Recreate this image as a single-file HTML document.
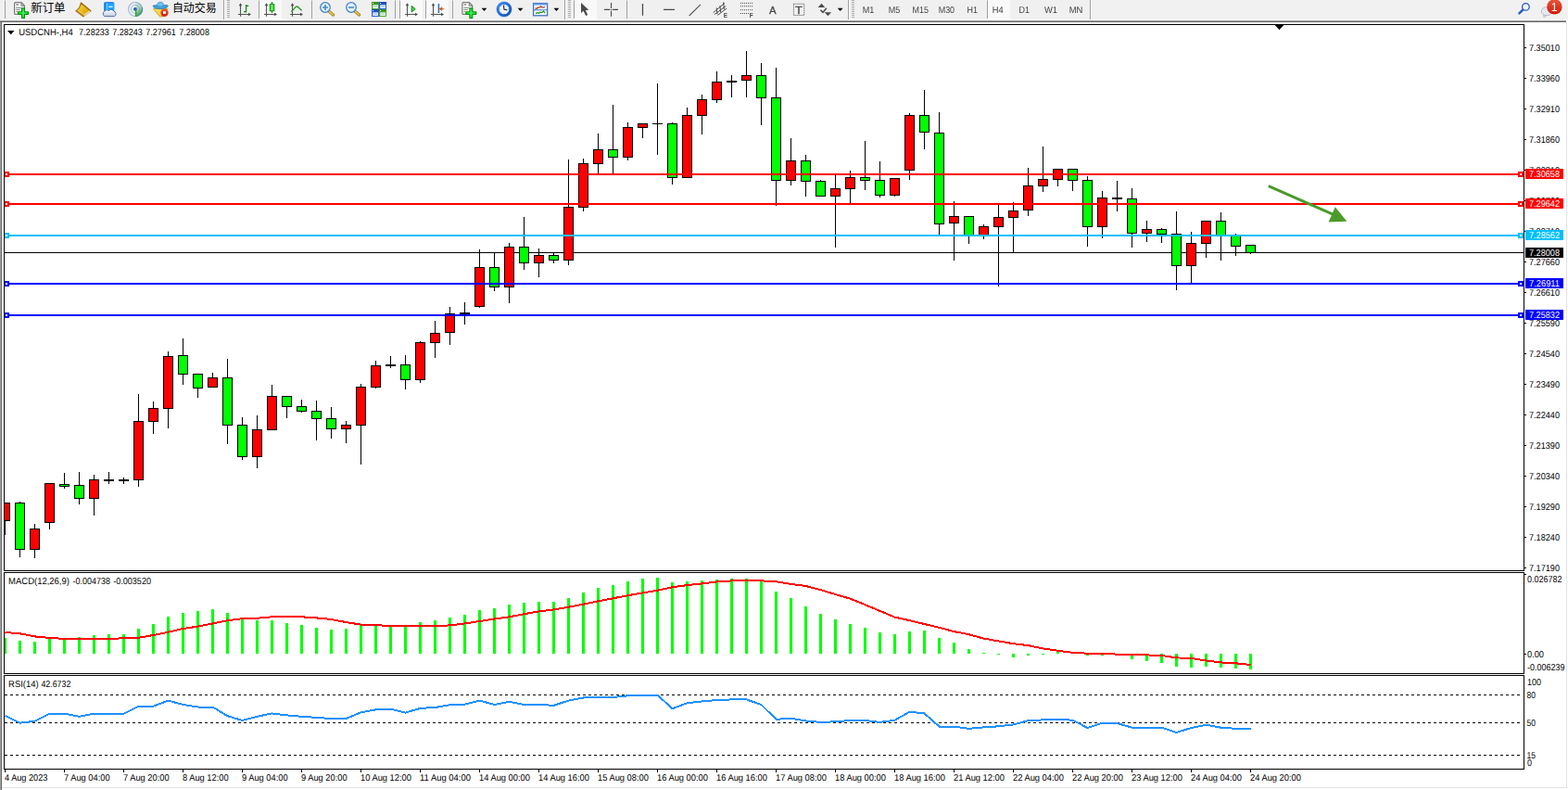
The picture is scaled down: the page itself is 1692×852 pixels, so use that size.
<!DOCTYPE html>
<html><head><meta charset="utf-8"><title>USDCNH H4</title>
<style>
html,body{margin:0;padding:0;background:#fff;}
body{width:1692px;height:852px;position:relative;overflow:hidden;font-family:"Liberation Sans",sans-serif;}
svg{display:block}
</style></head><body>
<svg id="chart" width="1692" height="852" viewBox="0 0 1692 852" style="position:absolute;left:0;top:0">
<rect x="0" y="22" width="1692" height="830" fill="#fff"/>
<rect x="0" y="24" width="1" height="828" fill="#a0a0a0"/>
<rect x="1" y="24" width="1" height="828" fill="#696969"/>
<rect x="1690" y="24" width="1" height="826" fill="#e3e3e3"/>
<rect x="1691" y="24" width="1" height="828" fill="#fff"/>
<rect x="2" y="849" width="1689" height="1" fill="#e3e3e3"/>
<rect x="0" y="21" width="1692" height="1" fill="#f8f8f8"/>
<rect x="0" y="22" width="1690" height="1" fill="#a0a0a0"/>
<rect x="0" y="23" width="1690" height="1" fill="#696969"/>
<g shape-rendering="crispEdges">
<rect x="5" y="272" width="1639" height="1" fill="#000"/>
<clipPath id="cm"><rect x="5" y="27" width="1639" height="588"/></clipPath><g clip-path="url(#cm)">
<rect x="5" y="542" width="1" height="35" fill="#000"/>
<rect x="0" y="542" width="11" height="20" fill="#000"/>
<rect x="1" y="543" width="9" height="18" fill="#ff0000"/>
<rect x="21" y="541" width="1" height="60" fill="#000"/>
<rect x="16" y="542" width="11" height="51" fill="#000"/>
<rect x="17" y="543" width="9" height="49" fill="#00ff00"/>
<rect x="37" y="565" width="1" height="37" fill="#000"/>
<rect x="32" y="570" width="11" height="23" fill="#000"/>
<rect x="33" y="571" width="9" height="21" fill="#ff0000"/>
<rect x="53" y="521" width="1" height="50" fill="#000"/>
<rect x="48" y="521" width="11" height="43" fill="#000"/>
<rect x="49" y="522" width="9" height="41" fill="#ff0000"/>
<rect x="69" y="510" width="1" height="17" fill="#000"/>
<rect x="64" y="522" width="11" height="3" fill="#000"/>
<rect x="65" y="523" width="9" height="1" fill="#00ff00"/>
<rect x="85" y="509" width="1" height="35" fill="#000"/>
<rect x="80" y="523" width="11" height="15" fill="#000"/>
<rect x="81" y="524" width="9" height="13" fill="#00ff00"/>
<rect x="101" y="512" width="1" height="44" fill="#000"/>
<rect x="96" y="517" width="11" height="21" fill="#000"/>
<rect x="97" y="518" width="9" height="19" fill="#ff0000"/>
<rect x="117" y="509" width="1" height="13" fill="#000"/>
<rect x="112" y="517" width="11" height="2" fill="#000"/>
<rect x="133" y="515" width="1" height="7" fill="#000"/>
<rect x="128" y="517" width="11" height="2" fill="#000"/>
<rect x="149" y="425" width="1" height="100" fill="#000"/>
<rect x="144" y="454" width="11" height="64" fill="#000"/>
<rect x="145" y="455" width="9" height="62" fill="#ff0000"/>
<rect x="165" y="433" width="1" height="35" fill="#000"/>
<rect x="160" y="440" width="11" height="15" fill="#000"/>
<rect x="161" y="441" width="9" height="13" fill="#ff0000"/>
<rect x="181" y="379" width="1" height="83" fill="#000"/>
<rect x="176" y="384" width="11" height="57" fill="#000"/>
<rect x="177" y="385" width="9" height="55" fill="#ff0000"/>
<rect x="197" y="365" width="1" height="50" fill="#000"/>
<rect x="192" y="383" width="11" height="21" fill="#000"/>
<rect x="193" y="384" width="9" height="19" fill="#00ff00"/>
<rect x="213" y="403" width="1" height="26" fill="#000"/>
<rect x="208" y="403" width="11" height="16" fill="#000"/>
<rect x="209" y="404" width="9" height="14" fill="#00ff00"/>
<rect x="229" y="402" width="1" height="16" fill="#000"/>
<rect x="224" y="407" width="11" height="11" fill="#000"/>
<rect x="225" y="408" width="9" height="9" fill="#ff0000"/>
<rect x="245" y="387" width="1" height="92" fill="#000"/>
<rect x="240" y="407" width="11" height="52" fill="#000"/>
<rect x="241" y="408" width="9" height="50" fill="#00ff00"/>
<rect x="261" y="450" width="1" height="46" fill="#000"/>
<rect x="256" y="458" width="11" height="35" fill="#000"/>
<rect x="257" y="459" width="9" height="33" fill="#00ff00"/>
<rect x="277" y="448" width="1" height="57" fill="#000"/>
<rect x="272" y="463" width="11" height="30" fill="#000"/>
<rect x="273" y="464" width="9" height="28" fill="#ff0000"/>
<rect x="293" y="415" width="1" height="48" fill="#000"/>
<rect x="288" y="427" width="11" height="37" fill="#000"/>
<rect x="289" y="428" width="9" height="35" fill="#ff0000"/>
<rect x="309" y="427" width="1" height="24" fill="#000"/>
<rect x="304" y="427" width="11" height="12" fill="#000"/>
<rect x="305" y="428" width="9" height="10" fill="#00ff00"/>
<rect x="325" y="431" width="1" height="14" fill="#000"/>
<rect x="320" y="438" width="11" height="6" fill="#000"/>
<rect x="321" y="439" width="9" height="4" fill="#00ff00"/>
<rect x="341" y="432" width="1" height="43" fill="#000"/>
<rect x="336" y="443" width="11" height="9" fill="#000"/>
<rect x="337" y="444" width="9" height="7" fill="#00ff00"/>
<rect x="357" y="439" width="1" height="34" fill="#000"/>
<rect x="352" y="451" width="11" height="12" fill="#000"/>
<rect x="353" y="452" width="9" height="10" fill="#00ff00"/>
<rect x="373" y="454" width="1" height="24" fill="#000"/>
<rect x="368" y="458" width="11" height="5" fill="#000"/>
<rect x="369" y="459" width="9" height="3" fill="#ff0000"/>
<rect x="389" y="414" width="1" height="87" fill="#000"/>
<rect x="384" y="417" width="11" height="42" fill="#000"/>
<rect x="385" y="418" width="9" height="40" fill="#ff0000"/>
<rect x="405" y="389" width="1" height="30" fill="#000"/>
<rect x="400" y="394" width="11" height="24" fill="#000"/>
<rect x="401" y="395" width="9" height="22" fill="#ff0000"/>
<rect x="421" y="384" width="1" height="13" fill="#000"/>
<rect x="416" y="393" width="11" height="2" fill="#000"/>
<rect x="437" y="383" width="1" height="37" fill="#000"/>
<rect x="432" y="393" width="11" height="17" fill="#000"/>
<rect x="433" y="394" width="9" height="15" fill="#00ff00"/>
<rect x="453" y="368" width="1" height="45" fill="#000"/>
<rect x="448" y="369" width="11" height="41" fill="#000"/>
<rect x="449" y="370" width="9" height="39" fill="#ff0000"/>
<rect x="469" y="346" width="1" height="40" fill="#000"/>
<rect x="464" y="359" width="11" height="11" fill="#000"/>
<rect x="465" y="360" width="9" height="9" fill="#ff0000"/>
<rect x="485" y="331" width="1" height="41" fill="#000"/>
<rect x="480" y="338" width="11" height="21" fill="#000"/>
<rect x="481" y="339" width="9" height="19" fill="#ff0000"/>
<rect x="501" y="326" width="1" height="24" fill="#000"/>
<rect x="496" y="337" width="11" height="2" fill="#000"/>
<rect x="517" y="269" width="1" height="63" fill="#000"/>
<rect x="512" y="288" width="11" height="43" fill="#000"/>
<rect x="513" y="289" width="9" height="41" fill="#ff0000"/>
<rect x="533" y="272" width="1" height="42" fill="#000"/>
<rect x="528" y="288" width="11" height="22" fill="#000"/>
<rect x="529" y="289" width="9" height="20" fill="#00ff00"/>
<rect x="549" y="262" width="1" height="65" fill="#000"/>
<rect x="544" y="266" width="11" height="44" fill="#000"/>
<rect x="545" y="267" width="9" height="42" fill="#ff0000"/>
<rect x="565" y="234" width="1" height="57" fill="#000"/>
<rect x="560" y="266" width="11" height="18" fill="#000"/>
<rect x="561" y="267" width="9" height="16" fill="#00ff00"/>
<rect x="581" y="268" width="1" height="31" fill="#000"/>
<rect x="576" y="275" width="11" height="9" fill="#000"/>
<rect x="577" y="276" width="9" height="7" fill="#ff0000"/>
<rect x="597" y="272" width="1" height="12" fill="#000"/>
<rect x="592" y="275" width="11" height="6" fill="#000"/>
<rect x="593" y="276" width="9" height="4" fill="#00ff00"/>
<rect x="613" y="172" width="1" height="114" fill="#000"/>
<rect x="608" y="223" width="11" height="58" fill="#000"/>
<rect x="609" y="224" width="9" height="56" fill="#ff0000"/>
<rect x="629" y="171" width="1" height="57" fill="#000"/>
<rect x="624" y="176" width="11" height="48" fill="#000"/>
<rect x="625" y="177" width="9" height="46" fill="#ff0000"/>
<rect x="645" y="144" width="1" height="43" fill="#000"/>
<rect x="640" y="161" width="11" height="16" fill="#000"/>
<rect x="641" y="162" width="9" height="14" fill="#ff0000"/>
<rect x="661" y="113" width="1" height="74" fill="#000"/>
<rect x="656" y="161" width="11" height="9" fill="#000"/>
<rect x="657" y="162" width="9" height="7" fill="#00ff00"/>
<rect x="677" y="132" width="1" height="41" fill="#000"/>
<rect x="672" y="137" width="11" height="33" fill="#000"/>
<rect x="673" y="138" width="9" height="31" fill="#ff0000"/>
<rect x="693" y="133" width="1" height="16" fill="#000"/>
<rect x="688" y="133" width="11" height="5" fill="#000"/>
<rect x="689" y="134" width="9" height="3" fill="#ff0000"/>
<rect x="709" y="90" width="1" height="77" fill="#000"/>
<rect x="704" y="133" width="11" height="1" fill="#000"/>
<rect x="725" y="132" width="1" height="67" fill="#000"/>
<rect x="720" y="133" width="11" height="59" fill="#000"/>
<rect x="721" y="134" width="9" height="57" fill="#00ff00"/>
<rect x="741" y="116" width="1" height="75" fill="#000"/>
<rect x="736" y="124" width="11" height="68" fill="#000"/>
<rect x="737" y="125" width="9" height="66" fill="#ff0000"/>
<rect x="757" y="102" width="1" height="43" fill="#000"/>
<rect x="752" y="107" width="11" height="18" fill="#000"/>
<rect x="753" y="108" width="9" height="16" fill="#ff0000"/>
<rect x="773" y="77" width="1" height="34" fill="#000"/>
<rect x="768" y="88" width="11" height="20" fill="#000"/>
<rect x="769" y="89" width="9" height="18" fill="#ff0000"/>
<rect x="789" y="81" width="1" height="24" fill="#000"/>
<rect x="784" y="87" width="11" height="2" fill="#000"/>
<rect x="805" y="55" width="1" height="50" fill="#000"/>
<rect x="800" y="81" width="11" height="6" fill="#000"/>
<rect x="801" y="82" width="9" height="4" fill="#ff0000"/>
<rect x="821" y="68" width="1" height="67" fill="#000"/>
<rect x="816" y="81" width="11" height="25" fill="#000"/>
<rect x="817" y="82" width="9" height="23" fill="#00ff00"/>
<rect x="837" y="73" width="1" height="149" fill="#000"/>
<rect x="832" y="105" width="11" height="90" fill="#000"/>
<rect x="833" y="106" width="9" height="88" fill="#00ff00"/>
<rect x="853" y="149" width="1" height="51" fill="#000"/>
<rect x="848" y="173" width="11" height="22" fill="#000"/>
<rect x="849" y="174" width="9" height="20" fill="#ff0000"/>
<rect x="869" y="167" width="1" height="45" fill="#000"/>
<rect x="864" y="173" width="11" height="23" fill="#000"/>
<rect x="865" y="174" width="9" height="21" fill="#00ff00"/>
<rect x="885" y="194" width="1" height="17" fill="#000"/>
<rect x="880" y="195" width="11" height="17" fill="#000"/>
<rect x="881" y="196" width="9" height="15" fill="#00ff00"/>
<rect x="901" y="188" width="1" height="79" fill="#000"/>
<rect x="896" y="203" width="11" height="9" fill="#000"/>
<rect x="897" y="204" width="9" height="7" fill="#ff0000"/>
<rect x="917" y="184" width="1" height="35" fill="#000"/>
<rect x="912" y="191" width="11" height="13" fill="#000"/>
<rect x="913" y="192" width="9" height="11" fill="#ff0000"/>
<rect x="933" y="152" width="1" height="53" fill="#000"/>
<rect x="928" y="191" width="11" height="4" fill="#000"/>
<rect x="929" y="192" width="9" height="2" fill="#00ff00"/>
<rect x="949" y="174" width="1" height="39" fill="#000"/>
<rect x="944" y="194" width="11" height="17" fill="#000"/>
<rect x="945" y="195" width="9" height="15" fill="#00ff00"/>
<rect x="965" y="192" width="1" height="20" fill="#000"/>
<rect x="960" y="192" width="11" height="19" fill="#000"/>
<rect x="961" y="193" width="9" height="17" fill="#ff0000"/>
<rect x="981" y="122" width="1" height="72" fill="#000"/>
<rect x="976" y="124" width="11" height="60" fill="#000"/>
<rect x="977" y="125" width="9" height="58" fill="#ff0000"/>
<rect x="997" y="97" width="1" height="64" fill="#000"/>
<rect x="992" y="124" width="11" height="19" fill="#000"/>
<rect x="993" y="125" width="9" height="17" fill="#00ff00"/>
<rect x="1013" y="121" width="1" height="132" fill="#000"/>
<rect x="1008" y="143" width="11" height="99" fill="#000"/>
<rect x="1009" y="144" width="9" height="97" fill="#00ff00"/>
<rect x="1029" y="217" width="1" height="64" fill="#000"/>
<rect x="1024" y="233" width="11" height="8" fill="#000"/>
<rect x="1025" y="234" width="9" height="6" fill="#ff0000"/>
<rect x="1045" y="233" width="1" height="30" fill="#000"/>
<rect x="1040" y="233" width="11" height="22" fill="#000"/>
<rect x="1041" y="234" width="9" height="20" fill="#00ff00"/>
<rect x="1061" y="242" width="1" height="16" fill="#000"/>
<rect x="1056" y="244" width="11" height="11" fill="#000"/>
<rect x="1057" y="245" width="9" height="9" fill="#ff0000"/>
<rect x="1077" y="221" width="1" height="88" fill="#000"/>
<rect x="1072" y="234" width="11" height="11" fill="#000"/>
<rect x="1073" y="235" width="9" height="9" fill="#ff0000"/>
<rect x="1093" y="218" width="1" height="54" fill="#000"/>
<rect x="1088" y="227" width="11" height="8" fill="#000"/>
<rect x="1089" y="228" width="9" height="6" fill="#ff0000"/>
<rect x="1109" y="181" width="1" height="52" fill="#000"/>
<rect x="1104" y="200" width="11" height="27" fill="#000"/>
<rect x="1105" y="201" width="9" height="25" fill="#ff0000"/>
<rect x="1125" y="158" width="1" height="49" fill="#000"/>
<rect x="1120" y="193" width="11" height="8" fill="#000"/>
<rect x="1121" y="194" width="9" height="6" fill="#ff0000"/>
<rect x="1141" y="182" width="1" height="19" fill="#000"/>
<rect x="1136" y="182" width="11" height="12" fill="#000"/>
<rect x="1137" y="183" width="9" height="10" fill="#ff0000"/>
<rect x="1157" y="182" width="1" height="24" fill="#000"/>
<rect x="1152" y="182" width="11" height="13" fill="#000"/>
<rect x="1153" y="183" width="9" height="11" fill="#00ff00"/>
<rect x="1173" y="190" width="1" height="76" fill="#000"/>
<rect x="1168" y="194" width="11" height="51" fill="#000"/>
<rect x="1169" y="195" width="9" height="49" fill="#00ff00"/>
<rect x="1189" y="206" width="1" height="51" fill="#000"/>
<rect x="1184" y="213" width="11" height="32" fill="#000"/>
<rect x="1185" y="214" width="9" height="30" fill="#ff0000"/>
<rect x="1205" y="195" width="1" height="33" fill="#000"/>
<rect x="1200" y="213" width="11" height="2" fill="#000"/>
<rect x="1221" y="203" width="1" height="64" fill="#000"/>
<rect x="1216" y="214" width="11" height="38" fill="#000"/>
<rect x="1217" y="215" width="9" height="36" fill="#00ff00"/>
<rect x="1237" y="238" width="1" height="23" fill="#000"/>
<rect x="1232" y="247" width="11" height="5" fill="#000"/>
<rect x="1233" y="248" width="9" height="3" fill="#ff0000"/>
<rect x="1253" y="246" width="1" height="16" fill="#000"/>
<rect x="1248" y="247" width="11" height="6" fill="#000"/>
<rect x="1249" y="248" width="9" height="4" fill="#00ff00"/>
<rect x="1269" y="228" width="1" height="85" fill="#000"/>
<rect x="1264" y="252" width="11" height="35" fill="#000"/>
<rect x="1265" y="253" width="9" height="33" fill="#00ff00"/>
<rect x="1285" y="250" width="1" height="55" fill="#000"/>
<rect x="1280" y="262" width="11" height="25" fill="#000"/>
<rect x="1281" y="263" width="9" height="23" fill="#ff0000"/>
<rect x="1301" y="238" width="1" height="40" fill="#000"/>
<rect x="1296" y="238" width="11" height="25" fill="#000"/>
<rect x="1297" y="239" width="9" height="23" fill="#ff0000"/>
<rect x="1317" y="229" width="1" height="52" fill="#000"/>
<rect x="1312" y="238" width="11" height="16" fill="#000"/>
<rect x="1313" y="239" width="9" height="14" fill="#00ff00"/>
<rect x="1333" y="252" width="1" height="24" fill="#000"/>
<rect x="1328" y="253" width="11" height="13" fill="#000"/>
<rect x="1329" y="254" width="9" height="11" fill="#00ff00"/>
<rect x="1349" y="264" width="1" height="10" fill="#000"/>
<rect x="1344" y="264" width="11" height="9" fill="#000"/>
<rect x="1345" y="265" width="9" height="7" fill="#00ff00"/>
</g>
<rect x="5" y="187" width="1639" height="2" fill="#ff0000"/>
<rect x="4" y="185" width="6" height="6" fill="#ff0000"/>
<rect x="6" y="187" width="2" height="2" fill="#fff"/>
<rect x="1638" y="185" width="7" height="6" fill="#ff0000"/>
<rect x="1640" y="187" width="2" height="2" fill="#fff"/>
<rect x="5" y="219" width="1639" height="2" fill="#ff0000"/>
<rect x="4" y="217" width="6" height="6" fill="#ff0000"/>
<rect x="6" y="219" width="2" height="2" fill="#fff"/>
<rect x="1638" y="217" width="7" height="6" fill="#ff0000"/>
<rect x="1640" y="219" width="2" height="2" fill="#fff"/>
<rect x="5" y="253" width="1639" height="2" fill="#00bfff"/>
<rect x="4" y="251" width="6" height="6" fill="#00bfff"/>
<rect x="6" y="253" width="2" height="2" fill="#fff"/>
<rect x="1638" y="251" width="7" height="6" fill="#00bfff"/>
<rect x="1640" y="253" width="2" height="2" fill="#fff"/>
<rect x="5" y="305" width="1639" height="2" fill="#0000ff"/>
<rect x="4" y="303" width="6" height="6" fill="#0000ff"/>
<rect x="6" y="305" width="2" height="2" fill="#fff"/>
<rect x="1638" y="303" width="7" height="6" fill="#0000ff"/>
<rect x="1640" y="305" width="2" height="2" fill="#fff"/>
<rect x="5" y="339" width="1639" height="2" fill="#0000ff"/>
<rect x="4" y="337" width="6" height="6" fill="#0000ff"/>
<rect x="6" y="339" width="2" height="2" fill="#fff"/>
<rect x="1638" y="337" width="7" height="6" fill="#0000ff"/>
<rect x="1640" y="339" width="2" height="2" fill="#fff"/>
<rect x="5" y="688" width="2" height="17" fill="#00ff00"/>
<rect x="20" y="691" width="3" height="14" fill="#00ff00"/>
<rect x="36" y="692" width="3" height="13" fill="#00ff00"/>
<rect x="52" y="689" width="3" height="16" fill="#00ff00"/>
<rect x="68" y="688" width="3" height="17" fill="#00ff00"/>
<rect x="84" y="687" width="3" height="18" fill="#00ff00"/>
<rect x="100" y="685" width="3" height="20" fill="#00ff00"/>
<rect x="116" y="684" width="3" height="21" fill="#00ff00"/>
<rect x="132" y="684" width="3" height="21" fill="#00ff00"/>
<rect x="148" y="678" width="3" height="27" fill="#00ff00"/>
<rect x="164" y="673" width="3" height="32" fill="#00ff00"/>
<rect x="180" y="665" width="3" height="40" fill="#00ff00"/>
<rect x="196" y="661" width="3" height="44" fill="#00ff00"/>
<rect x="212" y="659" width="3" height="46" fill="#00ff00"/>
<rect x="228" y="657" width="3" height="48" fill="#00ff00"/>
<rect x="244" y="661" width="3" height="44" fill="#00ff00"/>
<rect x="260" y="668" width="3" height="37" fill="#00ff00"/>
<rect x="276" y="669" width="3" height="36" fill="#00ff00"/>
<rect x="292" y="669" width="3" height="36" fill="#00ff00"/>
<rect x="308" y="672" width="3" height="33" fill="#00ff00"/>
<rect x="324" y="674" width="3" height="31" fill="#00ff00"/>
<rect x="340" y="677" width="3" height="28" fill="#00ff00"/>
<rect x="356" y="679" width="3" height="26" fill="#00ff00"/>
<rect x="372" y="678" width="3" height="27" fill="#00ff00"/>
<rect x="388" y="674" width="3" height="31" fill="#00ff00"/>
<rect x="404" y="675" width="3" height="30" fill="#00ff00"/>
<rect x="420" y="675" width="3" height="30" fill="#00ff00"/>
<rect x="436" y="676" width="3" height="29" fill="#00ff00"/>
<rect x="452" y="671" width="3" height="34" fill="#00ff00"/>
<rect x="468" y="669" width="3" height="36" fill="#00ff00"/>
<rect x="484" y="666" width="3" height="39" fill="#00ff00"/>
<rect x="500" y="663" width="3" height="42" fill="#00ff00"/>
<rect x="516" y="658" width="3" height="47" fill="#00ff00"/>
<rect x="532" y="656" width="3" height="49" fill="#00ff00"/>
<rect x="548" y="652" width="3" height="53" fill="#00ff00"/>
<rect x="564" y="650" width="3" height="55" fill="#00ff00"/>
<rect x="580" y="649" width="3" height="56" fill="#00ff00"/>
<rect x="596" y="649" width="3" height="56" fill="#00ff00"/>
<rect x="612" y="645" width="3" height="60" fill="#00ff00"/>
<rect x="628" y="639" width="3" height="66" fill="#00ff00"/>
<rect x="644" y="634" width="3" height="71" fill="#00ff00"/>
<rect x="660" y="631" width="3" height="74" fill="#00ff00"/>
<rect x="676" y="627" width="3" height="78" fill="#00ff00"/>
<rect x="692" y="624" width="3" height="81" fill="#00ff00"/>
<rect x="708" y="623" width="3" height="82" fill="#00ff00"/>
<rect x="724" y="628" width="3" height="77" fill="#00ff00"/>
<rect x="740" y="627" width="3" height="78" fill="#00ff00"/>
<rect x="756" y="626" width="3" height="79" fill="#00ff00"/>
<rect x="772" y="625" width="3" height="80" fill="#00ff00"/>
<rect x="788" y="624" width="3" height="81" fill="#00ff00"/>
<rect x="804" y="624" width="3" height="81" fill="#00ff00"/>
<rect x="820" y="626" width="3" height="79" fill="#00ff00"/>
<rect x="836" y="638" width="3" height="67" fill="#00ff00"/>
<rect x="852" y="645" width="3" height="60" fill="#00ff00"/>
<rect x="868" y="654" width="3" height="51" fill="#00ff00"/>
<rect x="884" y="662" width="3" height="43" fill="#00ff00"/>
<rect x="900" y="668" width="3" height="37" fill="#00ff00"/>
<rect x="916" y="673" width="3" height="32" fill="#00ff00"/>
<rect x="932" y="677" width="3" height="28" fill="#00ff00"/>
<rect x="948" y="682" width="3" height="23" fill="#00ff00"/>
<rect x="964" y="684" width="3" height="21" fill="#00ff00"/>
<rect x="980" y="681" width="3" height="24" fill="#00ff00"/>
<rect x="996" y="680" width="3" height="25" fill="#00ff00"/>
<rect x="1012" y="688" width="3" height="17" fill="#00ff00"/>
<rect x="1028" y="693" width="3" height="12" fill="#00ff00"/>
<rect x="1044" y="700" width="3" height="5" fill="#00ff00"/>
<rect x="1060" y="704" width="3" height="1" fill="#00ff00"/>
<rect x="1076" y="705" width="3" height="1" fill="#00ff00"/>
<rect x="1092" y="705" width="3" height="4" fill="#00ff00"/>
<rect x="1108" y="705" width="3" height="2" fill="#00ff00"/>
<rect x="1124" y="705" width="3" height="1" fill="#00ff00"/>
<rect x="1140" y="703" width="3" height="2" fill="#00ff00"/>
<rect x="1156" y="703" width="3" height="2" fill="#00ff00"/>
<rect x="1172" y="705" width="3" height="2" fill="#00ff00"/>
<rect x="1188" y="705" width="3" height="2" fill="#00ff00"/>
<rect x="1204" y="705" width="3" height="2" fill="#00ff00"/>
<rect x="1220" y="705" width="3" height="6" fill="#00ff00"/>
<rect x="1236" y="705" width="3" height="8" fill="#00ff00"/>
<rect x="1252" y="705" width="3" height="10" fill="#00ff00"/>
<rect x="1268" y="705" width="3" height="14" fill="#00ff00"/>
<rect x="1284" y="705" width="3" height="15" fill="#00ff00"/>
<rect x="1300" y="705" width="3" height="14" fill="#00ff00"/>
<rect x="1316" y="705" width="3" height="15" fill="#00ff00"/>
<rect x="1332" y="705" width="3" height="16" fill="#00ff00"/>
<rect x="1348" y="705" width="3" height="17" fill="#00ff00"/>
</g>
<polyline points="5.5,682 21.5,683.3 37.5,686.4 53.5,688 69.5,688.9 85.5,688.9 101.5,688.9 117.5,688.9 133.5,688.3 149.5,687.8 165.5,685 181.5,681.7 197.5,678 213.5,675.6 229.5,672.5 245.5,669.2 261.5,667.2 277.5,666.7 293.5,665.3 309.5,664.7 325.5,665.3 341.5,666.4 357.5,668 373.5,671.1 389.5,673.6 405.5,674.2 421.5,675 437.5,675 453.5,675 469.5,675 485.5,674.4 501.5,672.5 517.5,670 533.5,667.5 549.5,665.3 565.5,662.2 581.5,659.4 597.5,657.5 613.5,654.7 629.5,651.7 645.5,648.3 661.5,645.3 677.5,642.2 693.5,639.4 709.5,636.7 725.5,633.3 741.5,631.1 757.5,629.4 773.5,627.5 789.5,626.4 805.5,626.1 821.5,626.4 837.5,627.2 853.5,630 869.5,632 885.5,636.1 901.5,641 917.5,645.7 933.5,652.2 949.5,658.9 965.5,665.6 981.5,669.2 997.5,673 1013.5,676.9 1029.5,681.1 1045.5,684.2 1061.5,688.6 1077.5,691.4 1093.5,694.2 1109.5,696.1 1125.5,699.4 1141.5,701.7 1157.5,703.9 1173.5,704.7 1189.5,705 1205.5,705.6 1221.5,706.1 1237.5,706.4 1253.5,707 1269.5,709.4 1285.5,710 1301.5,712.5 1317.5,714.4 1333.5,715.3 1349.5,717" fill="none" stroke="#ff0000" stroke-width="2" stroke-linejoin="round" shape-rendering="crispEdges"/>
<g shape-rendering="crispEdges">
<line x1="5" x2="1642" y1="749.5" y2="749.5" stroke="#000" stroke-width="1" stroke-dasharray="3 3"/>
<line x1="5" x2="1642" y1="779.5" y2="779.5" stroke="#000" stroke-width="1" stroke-dasharray="3 3"/>
<line x1="5" x2="1642" y1="814.5" y2="814.5" stroke="#000" stroke-width="1" stroke-dasharray="3 3"/>
</g>
<polyline points="5.5,771.7 21.5,779.7 37.5,777.8 53.5,769.7 69.5,769.7 85.5,772.8 101.5,769.7 117.5,769.7 133.5,769.7 149.5,761.7 165.5,761.7 181.5,755.6 197.5,760 213.5,762.5 229.5,762.5 245.5,772.2 261.5,777 277.5,772.8 293.5,769.4 309.5,771.4 325.5,772.8 341.5,773.9 357.5,775 373.5,775 389.5,768.3 405.5,765.3 421.5,764.7 437.5,768.6 453.5,763.9 469.5,763 485.5,760.3 501.5,759.7 517.5,755.6 533.5,760 549.5,756.7 565.5,760 581.5,760 597.5,760.8 613.5,755.6 629.5,752.5 645.5,752 661.5,752 677.5,750.3 693.5,749.7 709.5,749.7 725.5,764.2 741.5,758.3 757.5,756.4 773.5,755 789.5,754.4 805.5,754.4 821.5,760 837.5,775.8 853.5,774.7 869.5,777.5 885.5,778.9 901.5,778.3 917.5,777 933.5,777 949.5,778.9 965.5,776.7 981.5,767.8 997.5,769.4 1013.5,783.6 1029.5,783.6 1045.5,785.8 1061.5,784.4 1077.5,783.3 1093.5,781.4 1109.5,777.2 1125.5,776.4 1141.5,775.8 1157.5,776.7 1173.5,785 1189.5,779.7 1205.5,780 1221.5,784.7 1237.5,784.7 1253.5,784.7 1269.5,790 1285.5,785 1301.5,781.7 1317.5,784.7 1333.5,785.8 1349.5,785.8" fill="none" stroke="#1e90ff" stroke-width="2" stroke-linejoin="round" shape-rendering="crispEdges"/>
<g shape-rendering="crispEdges">
<rect x="4" y="26" width="1641" height="1" fill="#000"/>
<rect x="4" y="26" width="1" height="804" fill="#000"/>
<rect x="1644" y="26" width="1" height="804" fill="#000"/>
<rect x="4" y="615" width="1641" height="1" fill="#000"/>
<rect x="4" y="616" width="1641" height="1" fill="#fff"/>
<rect x="4" y="617" width="1641" height="1" fill="#000"/>
<rect x="4" y="726" width="1641" height="1" fill="#000"/>
<rect x="4" y="727" width="1641" height="1" fill="#fff"/>
<rect x="4" y="728" width="1641" height="1" fill="#000"/>
<rect x="4" y="829" width="1641" height="1" fill="#000"/>
<rect x="1645" y="51" width="2" height="1" fill="#000"/>
<rect x="1645" y="84" width="2" height="1" fill="#000"/>
<rect x="1645" y="117" width="2" height="1" fill="#000"/>
<rect x="1645" y="150" width="2" height="1" fill="#000"/>
<rect x="1645" y="183" width="2" height="1" fill="#000"/>
<rect x="1645" y="216" width="2" height="1" fill="#000"/>
<rect x="1645" y="249" width="2" height="1" fill="#000"/>
<rect x="1645" y="282" width="2" height="1" fill="#000"/>
<rect x="1645" y="315" width="2" height="1" fill="#000"/>
<rect x="1645" y="348" width="2" height="1" fill="#000"/>
<rect x="1645" y="381" width="2" height="1" fill="#000"/>
<rect x="1645" y="414" width="2" height="1" fill="#000"/>
<rect x="1645" y="447" width="2" height="1" fill="#000"/>
<rect x="1645" y="480" width="2" height="1" fill="#000"/>
<rect x="1645" y="513" width="2" height="1" fill="#000"/>
<rect x="1645" y="546" width="2" height="1" fill="#000"/>
<rect x="1645" y="579" width="2" height="1" fill="#000"/>
<rect x="1645" y="612" width="2" height="1" fill="#000"/>
<rect x="1645" y="619" width="2" height="1" fill="#000"/>
<rect x="1645" y="705" width="2" height="1" fill="#000"/>
<rect x="5" y="830" width="1" height="3" fill="#000"/>
<rect x="69" y="830" width="1" height="3" fill="#000"/>
<rect x="133" y="830" width="1" height="3" fill="#000"/>
<rect x="197" y="830" width="1" height="3" fill="#000"/>
<rect x="261" y="830" width="1" height="3" fill="#000"/>
<rect x="325" y="830" width="1" height="3" fill="#000"/>
<rect x="389" y="830" width="1" height="3" fill="#000"/>
<rect x="453" y="830" width="1" height="3" fill="#000"/>
<rect x="517" y="830" width="1" height="3" fill="#000"/>
<rect x="581" y="830" width="1" height="3" fill="#000"/>
<rect x="645" y="830" width="1" height="3" fill="#000"/>
<rect x="709" y="830" width="1" height="3" fill="#000"/>
<rect x="773" y="830" width="1" height="3" fill="#000"/>
<rect x="837" y="830" width="1" height="3" fill="#000"/>
<rect x="901" y="830" width="1" height="3" fill="#000"/>
<rect x="965" y="830" width="1" height="3" fill="#000"/>
<rect x="1029" y="830" width="1" height="3" fill="#000"/>
<rect x="1093" y="830" width="1" height="3" fill="#000"/>
<rect x="1157" y="830" width="1" height="3" fill="#000"/>
<rect x="1221" y="830" width="1" height="3" fill="#000"/>
<rect x="1285" y="830" width="1" height="3" fill="#000"/>
<rect x="1349" y="830" width="1" height="3" fill="#000"/>
</g>
<path d="M1375.7 27 L1385.3 27 L1380.5 32.2 Z" fill="#000"/>
<path d="M8 33 L15.5 33 L11.75 37.2 Z" fill="#000"/>
<path d="M1368.8 200.6 L1440 231.8" stroke="#4c9a2a" stroke-width="3" fill="none"/>
<path d="M1440.8 223.3 L1453.4 238.7 L1433.6 239.4 Z" fill="#4c9a2a"/>
<g font-family="Liberation Sans, sans-serif" text-rendering="geometricPrecision">
<text x="20.2" y="37.7" font-size="10.0" fill="#000" text-anchor="start" textLength="58.5" lengthAdjust="spacingAndGlyphs">USDCNH-,H4</text>
<text x="85.1" y="37.7" font-size="10.0" fill="#000" text-anchor="start" textLength="32.6" lengthAdjust="spacingAndGlyphs">7.28233</text>
<text x="121.16999999999999" y="37.7" font-size="10.0" fill="#000" text-anchor="start" textLength="32.6" lengthAdjust="spacingAndGlyphs">7.28243</text>
<text x="157.24" y="37.7" font-size="10.0" fill="#000" text-anchor="start" textLength="32.6" lengthAdjust="spacingAndGlyphs">7.27961</text>
<text x="193.31" y="37.7" font-size="10.0" fill="#000" text-anchor="start" textLength="32.6" lengthAdjust="spacingAndGlyphs">7.28008</text>
<text x="9.1" y="629.8" font-size="10.0" fill="#000" text-anchor="start" textLength="65.8" lengthAdjust="spacingAndGlyphs">MACD(12,26,9)</text>
<text x="78.4" y="629.8" font-size="10.0" fill="#000" text-anchor="start" textLength="40.5" lengthAdjust="spacingAndGlyphs">-0.004738</text>
<text x="122.2" y="629.8" font-size="10.0" fill="#000" text-anchor="start" textLength="40.8" lengthAdjust="spacingAndGlyphs">-0.003520</text>
<text x="9.1" y="740.8" font-size="10.0" fill="#000" text-anchor="start" textLength="32.5" lengthAdjust="spacingAndGlyphs">RSI(14)</text>
<text x="44.4" y="740.8" font-size="10.0" fill="#000" text-anchor="start" textLength="32" lengthAdjust="spacingAndGlyphs">42.6732</text>
<text x="1650" y="55" font-size="10.0" fill="#000" text-anchor="start" textLength="33" lengthAdjust="spacingAndGlyphs">7.35010</text>
<text x="1650" y="88" font-size="10.0" fill="#000" text-anchor="start" textLength="33" lengthAdjust="spacingAndGlyphs">7.33960</text>
<text x="1650" y="121" font-size="10.0" fill="#000" text-anchor="start" textLength="33" lengthAdjust="spacingAndGlyphs">7.32910</text>
<text x="1650" y="154" font-size="10.0" fill="#000" text-anchor="start" textLength="33" lengthAdjust="spacingAndGlyphs">7.31860</text>
<text x="1650" y="187" font-size="10.0" fill="#000" text-anchor="start" textLength="33" lengthAdjust="spacingAndGlyphs">7.30810</text>
<text x="1650" y="220" font-size="10.0" fill="#000" text-anchor="start" textLength="33" lengthAdjust="spacingAndGlyphs">7.29760</text>
<text x="1650" y="253" font-size="10.0" fill="#000" text-anchor="start" textLength="33" lengthAdjust="spacingAndGlyphs">7.28710</text>
<text x="1650" y="286" font-size="10.0" fill="#000" text-anchor="start" textLength="33" lengthAdjust="spacingAndGlyphs">7.27660</text>
<text x="1650" y="319" font-size="10.0" fill="#000" text-anchor="start" textLength="33" lengthAdjust="spacingAndGlyphs">7.26610</text>
<text x="1650" y="352" font-size="10.0" fill="#000" text-anchor="start" textLength="33" lengthAdjust="spacingAndGlyphs">7.25590</text>
<text x="1650" y="385" font-size="10.0" fill="#000" text-anchor="start" textLength="33" lengthAdjust="spacingAndGlyphs">7.24540</text>
<text x="1650" y="418" font-size="10.0" fill="#000" text-anchor="start" textLength="33" lengthAdjust="spacingAndGlyphs">7.23490</text>
<text x="1650" y="451" font-size="10.0" fill="#000" text-anchor="start" textLength="33" lengthAdjust="spacingAndGlyphs">7.22440</text>
<text x="1650" y="484" font-size="10.0" fill="#000" text-anchor="start" textLength="33" lengthAdjust="spacingAndGlyphs">7.21390</text>
<text x="1650" y="517" font-size="10.0" fill="#000" text-anchor="start" textLength="33" lengthAdjust="spacingAndGlyphs">7.20340</text>
<text x="1650" y="550" font-size="10.0" fill="#000" text-anchor="start" textLength="33" lengthAdjust="spacingAndGlyphs">7.19290</text>
<text x="1650" y="583" font-size="10.0" fill="#000" text-anchor="start" textLength="33" lengthAdjust="spacingAndGlyphs">7.18240</text>
<text x="1650" y="616" font-size="10.0" fill="#000" text-anchor="start" textLength="33" lengthAdjust="spacingAndGlyphs">7.17190</text>
<text x="1648" y="627.8" font-size="10.0" fill="#000" text-anchor="start" textLength="37.5" lengthAdjust="spacingAndGlyphs">0.026782</text>
<text x="1648" y="709" font-size="10.0" fill="#000" text-anchor="start" textLength="18" lengthAdjust="spacingAndGlyphs">0.00</text>
<text x="1648" y="723.3" font-size="10.0" fill="#000" text-anchor="start" textLength="40.5" lengthAdjust="spacingAndGlyphs">-0.006239</text>
<text x="1648" y="739" font-size="10.0" fill="#000" text-anchor="start" textLength="15" lengthAdjust="spacingAndGlyphs">100</text>
<text x="1647.5" y="753" font-size="10.0" fill="#000" text-anchor="start" textLength="9.5" lengthAdjust="spacingAndGlyphs">80</text>
<text x="1647.5" y="782.8" font-size="10.0" fill="#000" text-anchor="start" textLength="9.5" lengthAdjust="spacingAndGlyphs">50</text>
<text x="1647.5" y="818" font-size="10.0" fill="#000" text-anchor="start" textLength="9.5" lengthAdjust="spacingAndGlyphs">15</text>
<text x="1648" y="826" font-size="10.0" fill="#000" text-anchor="start" textLength="5" lengthAdjust="spacingAndGlyphs">0</text>
<rect x="1646" y="182" width="41" height="11" fill="#ff0000" shape-rendering="crispEdges"/>
<text x="1650" y="191.4" font-size="10.0" fill="#fff" text-anchor="start" textLength="33" lengthAdjust="spacingAndGlyphs">7.30658</text>
<rect x="1646" y="214" width="41" height="11" fill="#ff0000" shape-rendering="crispEdges"/>
<text x="1650" y="223.4" font-size="10.0" fill="#fff" text-anchor="start" textLength="33" lengthAdjust="spacingAndGlyphs">7.29642</text>
<rect x="1646" y="248" width="41" height="11" fill="#00bfff" shape-rendering="crispEdges"/>
<text x="1650" y="257.4" font-size="10.0" fill="#fff" text-anchor="start" textLength="33" lengthAdjust="spacingAndGlyphs">7.28562</text>
<rect x="1646" y="267" width="41" height="11" fill="#000" shape-rendering="crispEdges"/>
<text x="1650" y="276.4" font-size="10.0" fill="#fff" text-anchor="start" textLength="33" lengthAdjust="spacingAndGlyphs">7.28008</text>
<rect x="1646" y="300" width="41" height="11" fill="#0000ff" shape-rendering="crispEdges"/>
<text x="1650" y="309.4" font-size="10.0" fill="#fff" text-anchor="start" textLength="33" lengthAdjust="spacingAndGlyphs">7.26911</text>
<rect x="1646" y="334" width="41" height="11" fill="#0000ff" shape-rendering="crispEdges"/>
<text x="1650" y="343.4" font-size="10.0" fill="#fff" text-anchor="start" textLength="33" lengthAdjust="spacingAndGlyphs">7.25832</text>
<text x="5" y="842.2" font-size="10.0" fill="#000" text-anchor="start" textLength="46.4" lengthAdjust="spacingAndGlyphs">4 Aug 2023</text>
<text x="69" y="842.2" font-size="10.0" fill="#000" text-anchor="start" textLength="49.6" lengthAdjust="spacingAndGlyphs">7 Aug 04:00</text>
<text x="133" y="842.2" font-size="10.0" fill="#000" text-anchor="start" textLength="49.6" lengthAdjust="spacingAndGlyphs">7 Aug 20:00</text>
<text x="197" y="842.2" font-size="10.0" fill="#000" text-anchor="start" textLength="49.6" lengthAdjust="spacingAndGlyphs">8 Aug 12:00</text>
<text x="261" y="842.2" font-size="10.0" fill="#000" text-anchor="start" textLength="49.6" lengthAdjust="spacingAndGlyphs">9 Aug 04:00</text>
<text x="325" y="842.2" font-size="10.0" fill="#000" text-anchor="start" textLength="49.6" lengthAdjust="spacingAndGlyphs">9 Aug 20:00</text>
<text x="389" y="842.2" font-size="10.0" fill="#000" text-anchor="start" textLength="54.9" lengthAdjust="spacingAndGlyphs">10 Aug 12:00</text>
<text x="453" y="842.2" font-size="10.0" fill="#000" text-anchor="start" textLength="54.9" lengthAdjust="spacingAndGlyphs">11 Aug 04:00</text>
<text x="517" y="842.2" font-size="10.0" fill="#000" text-anchor="start" textLength="54.9" lengthAdjust="spacingAndGlyphs">14 Aug 00:00</text>
<text x="581" y="842.2" font-size="10.0" fill="#000" text-anchor="start" textLength="54.9" lengthAdjust="spacingAndGlyphs">14 Aug 16:00</text>
<text x="645" y="842.2" font-size="10.0" fill="#000" text-anchor="start" textLength="54.9" lengthAdjust="spacingAndGlyphs">15 Aug 08:00</text>
<text x="709" y="842.2" font-size="10.0" fill="#000" text-anchor="start" textLength="54.9" lengthAdjust="spacingAndGlyphs">16 Aug 00:00</text>
<text x="773" y="842.2" font-size="10.0" fill="#000" text-anchor="start" textLength="54.9" lengthAdjust="spacingAndGlyphs">16 Aug 16:00</text>
<text x="837" y="842.2" font-size="10.0" fill="#000" text-anchor="start" textLength="54.9" lengthAdjust="spacingAndGlyphs">17 Aug 08:00</text>
<text x="901" y="842.2" font-size="10.0" fill="#000" text-anchor="start" textLength="54.9" lengthAdjust="spacingAndGlyphs">18 Aug 00:00</text>
<text x="965" y="842.2" font-size="10.0" fill="#000" text-anchor="start" textLength="54.9" lengthAdjust="spacingAndGlyphs">18 Aug 16:00</text>
<text x="1029" y="842.2" font-size="10.0" fill="#000" text-anchor="start" textLength="54.9" lengthAdjust="spacingAndGlyphs">21 Aug 12:00</text>
<text x="1093" y="842.2" font-size="10.0" fill="#000" text-anchor="start" textLength="54.9" lengthAdjust="spacingAndGlyphs">22 Aug 04:00</text>
<text x="1157" y="842.2" font-size="10.0" fill="#000" text-anchor="start" textLength="54.9" lengthAdjust="spacingAndGlyphs">22 Aug 20:00</text>
<text x="1221" y="842.2" font-size="10.0" fill="#000" text-anchor="start" textLength="54.9" lengthAdjust="spacingAndGlyphs">23 Aug 12:00</text>
<text x="1285" y="842.2" font-size="10.0" fill="#000" text-anchor="start" textLength="54.9" lengthAdjust="spacingAndGlyphs">24 Aug 04:00</text>
<text x="1349" y="842.2" font-size="10.0" fill="#000" text-anchor="start" textLength="54.9" lengthAdjust="spacingAndGlyphs">24 Aug 20:00</text>
</g>
</svg>
<svg id="tb" width="1692" height="21" viewBox="0 0 1692 21" style="position:absolute;left:0;top:0" font-family="Liberation Sans, sans-serif"><defs><filter id="nof" x="0" y="0" width="1" height="1" filterUnits="objectBoundingBox"><feOffset dx="0" dy="0"/></filter><linearGradient id="gk" x1="0" y1="0" x2="1" y2="1"><stop offset="0" stop-color="#3d8df0"/><stop offset="1" stop-color="#0c4fbf"/></linearGradient><linearGradient id="gs" x1="0" y1="0" x2="0.4" y2="1"><stop offset="0" stop-color="#d6e8dc" stop-opacity=".75"/><stop offset=".55" stop-color="#9fd0a2" stop-opacity=".85"/><stop offset="1" stop-color="#2f9e38"/></linearGradient><linearGradient id="gh" x1="0" y1="0" x2="1" y2="1"><stop offset="0" stop-color="#fbe96a"/><stop offset="1" stop-color="#e9bd22"/></linearGradient><linearGradient id="gy" x1="0" y1="0" x2="1" y2="1"><stop offset="0" stop-color="#fbe04a"/><stop offset=".55" stop-color="#e8b418"/><stop offset="1" stop-color="#cf8c0e"/></linearGradient><linearGradient id="gc" x1="0" y1="0" x2="0" y2="1"><stop offset="0" stop-color="#fff"/><stop offset="1" stop-color="#c4cde0"/></linearGradient><linearGradient id="gr" x1="0" y1="0" x2="0" y2="1"><stop offset="0" stop-color="#ec5436"/><stop offset="1" stop-color="#cf1c0c"/></linearGradient><radialGradient id="gp" cx=".5" cy=".5" r=".6"><stop offset="0" stop-color="#3cff58"/><stop offset="1" stop-color="#0fc41f"/></radialGradient><linearGradient id="gg" x1="0" y1="0" x2="1" y2="0"><stop offset="0" stop-color="#18c818"/><stop offset=".5" stop-color="#7cf07c"/><stop offset="1" stop-color="#18c818"/></linearGradient></defs><rect width="1692" height="21" fill="#f0f0f0"/><rect x="1178" y="0" width="514" height="21" fill="#f1f1f1"/><rect x="280" y="0" width="24" height="20" fill="#f9f9f9"/><rect x="279" y="20" width="26" height="1" fill="#fff"/><rect x="432" y="0" width="24" height="20" fill="#f9f9f9"/><rect x="431" y="20" width="26" height="1" fill="#fff"/><rect x="460" y="0" width="24" height="20" fill="#f9f9f9"/><rect x="459" y="20" width="26" height="1" fill="#fff"/><rect x="620" y="0" width="24" height="20" fill="#f9f9f9"/><rect x="619" y="20" width="26" height="1" fill="#fff"/><rect x="1066" y="0" width="24" height="20" fill="#f9f9f9"/><rect x="1065" y="20" width="26" height="1" fill="#fff"/><rect x="5" y="0.5" width="1" height="19.5" fill="#a0a0a0"/><rect x="241" y="0" width="1" height="21" fill="#a0a0a0"/><rect x="242" y="0" width="1" height="21" fill="#fafafa"/><rect x="245" y="0" width="3" height="1" fill="#adadad"/><rect x="245" y="2" width="3" height="1" fill="#adadad"/><rect x="245" y="4" width="3" height="1" fill="#adadad"/><rect x="245" y="6" width="3" height="1" fill="#adadad"/><rect x="245" y="8" width="3" height="1" fill="#adadad"/><rect x="245" y="10" width="3" height="1" fill="#adadad"/><rect x="245" y="12" width="3" height="1" fill="#adadad"/><rect x="245" y="14" width="3" height="1" fill="#adadad"/><rect x="245" y="16" width="3" height="1" fill="#adadad"/><rect x="245" y="18" width="3" height="1" fill="#adadad"/><rect x="279" y="0.5" width="1" height="19.5" fill="#a0a0a0"/><rect x="336" y="0.5" width="1" height="19.5" fill="#a0a0a0"/><rect x="426" y="0.5" width="1" height="19.5" fill="#a0a0a0"/><rect x="431" y="0.5" width="1" height="19.5" fill="#a0a0a0"/><rect x="459" y="0.5" width="1" height="19.5" fill="#a0a0a0"/><rect x="488" y="0.5" width="1" height="19.5" fill="#a0a0a0"/><rect x="609" y="0" width="1" height="21" fill="#a0a0a0"/><rect x="610" y="0" width="1" height="21" fill="#fafafa"/><rect x="613" y="0" width="3" height="1" fill="#adadad"/><rect x="613" y="2" width="3" height="1" fill="#adadad"/><rect x="613" y="4" width="3" height="1" fill="#adadad"/><rect x="613" y="6" width="3" height="1" fill="#adadad"/><rect x="613" y="8" width="3" height="1" fill="#adadad"/><rect x="613" y="10" width="3" height="1" fill="#adadad"/><rect x="613" y="12" width="3" height="1" fill="#adadad"/><rect x="613" y="14" width="3" height="1" fill="#adadad"/><rect x="613" y="16" width="3" height="1" fill="#adadad"/><rect x="613" y="18" width="3" height="1" fill="#adadad"/><rect x="619" y="0.5" width="1" height="19.5" fill="#a0a0a0"/><rect x="676" y="0.5" width="1" height="19.5" fill="#a0a0a0"/><rect x="915" y="0" width="1" height="21" fill="#a0a0a0"/><rect x="916" y="0" width="1" height="21" fill="#fafafa"/><rect x="919" y="0" width="3" height="1" fill="#adadad"/><rect x="919" y="2" width="3" height="1" fill="#adadad"/><rect x="919" y="4" width="3" height="1" fill="#adadad"/><rect x="919" y="6" width="3" height="1" fill="#adadad"/><rect x="919" y="8" width="3" height="1" fill="#adadad"/><rect x="919" y="10" width="3" height="1" fill="#adadad"/><rect x="919" y="12" width="3" height="1" fill="#adadad"/><rect x="919" y="14" width="3" height="1" fill="#adadad"/><rect x="919" y="16" width="3" height="1" fill="#adadad"/><rect x="919" y="18" width="3" height="1" fill="#adadad"/><rect x="1065" y="0.5" width="1" height="19.5" fill="#a0a0a0"/><rect x="1176" y="0" width="1" height="21" fill="#a0a0a0"/><rect x="1177" y="0" width="1" height="21" fill="#fafafa"/><g transform="translate(0,0)"><path d="M16.6 2.7 H23 L26.4 6.1 V14.4 Q26.4 15.4 25.4 15.4 H16.6 Q15.6 15.4 15.6 14.4 V3.7 Q15.6 2.7 16.6 2.7 Z" fill="#fdfdfd" stroke="#7a7a7a" stroke-width="1.2"/><path d="M23 2.9 V6.1 H26.2" fill="none" stroke="#7a7a7a" stroke-width="1.1"/><rect x="17.2" y="4.2" width="2.8" height="1.5" fill="#8c8c8c"/><path d="M17.2 8.5 H23 M17.2 10.5 H21.8 M17.2 12.5 H19" stroke="#8a8a8a" stroke-width="1"/><path d="M23 8.2 h4 v4 h4 v3.8 h-4 v4 h-4 v-4 h-4 v-3.8 h4 z" fill="#0b8f0b"/><path d="M24 9.2 h2 v4 h4 v1.8 h-4 v4 h-2 v-4 h-4 v-1.8 h4 z" fill="url(#gp)"/></g><text x="33.2" y="13" font-size="12.3" fill="#000" font-family="'Liberation Sans', 'Noto Sans CJK SC', sans-serif" textLength="37.4" lengthAdjust="spacingAndGlyphs">新订单</text><path d="M87.5 3 L98 11.6 L89.8 17.7 L82 11.8 Q85.2 9.4 86 7.4 Q86.8 5.2 87.5 3 Z" fill="url(#gy)" stroke="#9a6410" stroke-width="1.1" stroke-linejoin="round"/><path d="M82.2 11.9 L89.8 17.5 L91.1 16.5 L83.5 10.9 Z" fill="#c48e18"/><path d="M83.7 10.7 L91.3 16.3" stroke="#fbe68e" stroke-width=".8"/><path d="M91 16.4 L97 11.9" stroke="#ece0a8" stroke-width="1.5"/><path d="M87.8 4.4 L96.4 11.2" stroke="#b87c14" stroke-width=".8"/><path d="M112.2 3 L113.4 2 H122 L123.2 3.2 V11.5 H112.2 Z" fill="#3c86e4"/><rect x="112.2" y="3.2" width="3" height="8.6" fill="#0c8ff0"/><rect x="115.6" y="3.4" width="7.6" height="8.4" fill="#19a6ff"/><path d="M115.3 3.4 V11" stroke="#d8f0ff" stroke-width=".7"/><rect x="117.2" y="6.7" width="4.4" height="1.2" fill="#e8f6ff"/><path d="M112.8 17.6 a3.2 3.2 0 0 1 0.1 -5.6 a3.4 3.4 0 0 1 4.6 -0.6 a3.4 3.4 0 0 1 5.4 0.8 a2.9 2.9 0 0 1 0.6 5.4 z" fill="url(#gc)" stroke="#4e6fa8" stroke-width="1"/><path d="M146 2.1 A7.95 7.95 0 0 1 146 18 Z" fill="url(#gs)"/><circle cx="146" cy="10.05" r="7.5" fill="none" stroke="#4f7cd8" stroke-width="1.1" opacity=".5"/><circle cx="146" cy="10.05" r="4.5" fill="none" stroke="#5f88dc" stroke-width="1.1" opacity=".5"/><path d="M153.6 8 A7.6 7.6 0 0 1 151 15.8" fill="none" stroke="#2f7f86" stroke-width="1" opacity=".7"/><circle cx="145.9" cy="9.8" r="1.9" fill="#2456c8"/><path d="M146.6 10 V17.9" stroke="#1ea21e" stroke-width="1.3"/><path d="M165.4 9.4 L181 9.4 L176.6 17.8 L172.3 17.8 Z" fill="url(#gh)" stroke="#c9a31c" stroke-width=".9" stroke-linejoin="round"/><path d="M165 6.6 Q166.4 9.4 173.2 9.5 Q180 9.4 181.3 6.4 Q180.6 5.2 178.4 5.6 Q173 7.4 167.8 5.8 Q165.6 5.4 165 6.6 Z" fill="#46a2dc" stroke="#2580b6" stroke-width=".9"/><path d="M169.3 6.6 Q169.4 2.2 173 2.2 Q176.6 2.2 176.8 6.4 Q173 8 169.3 6.6 Z" fill="#72bfee" stroke="#2a86be" stroke-width=".7"/><circle cx="177.5" cy="13.7" r="4.15" fill="url(#gr)"/><rect x="176" y="12.3" width="2.9" height="2.6" fill="#fff"/><text x="185.9" y="13.2" font-size="12" fill="#000" font-family="'Liberation Sans', 'Noto Sans CJK SC', sans-serif" textLength="47.9" lengthAdjust="spacingAndGlyphs">自动交易</text><path d="M259.5 4.5 V17.8 M257 15.5 H269.5" stroke="#555" stroke-width="1.1" fill="none"/><path d="M259.5 3.2 l-1.8 3 h3.6 z M271 15.5 l-3 -1.8 v3.6 z" fill="#4a4a4a"/><path d="M265.6 5 V13.6 M265.6 6.3 H268.2 M263 12.6 H265.6" stroke="#0a8a0a" stroke-width="1.2" fill="none"/><path d="M287.5 4.5 V17.8 M285 15.5 H297.5" stroke="#555" stroke-width="1.1" fill="none"/><path d="M287.5 3.2 l-1.8 3 h3.6 z M299 15.5 l-3 -1.8 v3.6 z" fill="#4a4a4a"/><path d="M293.5 2.2 V13.8" stroke="#0a7a0a" stroke-width="1.3"/><rect x="291.2" y="4.6" width="4.6" height="7.2" fill="url(#gg)" stroke="#0a8a0a" stroke-width=".9"/><path d="M315.5 4.5 V17.8 M313 15.5 H325.5" stroke="#555" stroke-width="1.1" fill="none"/><path d="M315.5 3.2 l-1.8 3 h3.6 z M327 15.5 l-3 -1.8 v3.6 z" fill="#4a4a4a"/><path d="M314.3 12.6 C317 10.5 318.5 6.8 320.4 7 C322.3 7.2 323.5 10.2 325.8 11.2" stroke="#2a9a2a" stroke-width="1.3" fill="none"/><path d="M354.4 11.6 L359.5 16" stroke="#8f7018" stroke-width="3.1" stroke-linecap="round"/><path d="M354.6 11.8 L359.4 15.9" stroke="#ecca40" stroke-width="1.8" stroke-linecap="round"/><circle cx="351" cy="8" r="5.3" fill="#e2f1fc" stroke="#3f7fcc" stroke-width="1.25"/><path d="M348 8 h6 M351 5 v6" stroke="#4a8cbc" stroke-width="1.6"/><path d="M382.4 11.6 L387.5 16" stroke="#8f7018" stroke-width="3.1" stroke-linecap="round"/><path d="M382.6 11.8 L387.4 15.9" stroke="#ecca40" stroke-width="1.8" stroke-linecap="round"/><circle cx="379" cy="8" r="5.3" fill="#e2f1fc" stroke="#3f7fcc" stroke-width="1.25"/><path d="M376 8 h6" stroke="#4a8cbc" stroke-width="1.6"/><rect x="401" y="2" width="8" height="8" fill="#4aa828"/><rect x="401" y="2" width="8" height="2.4" fill="#3a9219"/><rect x="402.3" y="5.4" width="5.6" height="3.6" fill="#f4f8ff"/><rect x="403.2" y="6.6" width="3.8" height="1" fill="#4aa828" opacity=".55"/><rect x="402" y="3" width="1" height="1" fill="#e8f0ff"/><rect x="409" y="2" width="8" height="8" fill="#2d62d8"/><rect x="409" y="2" width="8" height="2.4" fill="#1f4bbc"/><rect x="410.3" y="5.4" width="5.6" height="3.6" fill="#f4f8ff"/><rect x="411.2" y="6.6" width="3.8" height="1" fill="#2d62d8" opacity=".55"/><rect x="410" y="3" width="1" height="1" fill="#e8f0ff"/><rect x="401" y="10" width="8" height="8" fill="#2d62d8"/><rect x="401" y="10" width="8" height="2.4" fill="#1f4bbc"/><rect x="402.3" y="13.4" width="5.6" height="3.6" fill="#f4f8ff"/><rect x="403.2" y="14.6" width="3.8" height="1" fill="#2d62d8" opacity=".55"/><rect x="402" y="11" width="1" height="1" fill="#e8f0ff"/><rect x="409" y="10" width="8" height="8" fill="#4aa828"/><rect x="409" y="10" width="8" height="2.4" fill="#3a9219"/><rect x="410.3" y="13.4" width="5.6" height="3.6" fill="#f4f8ff"/><rect x="411.2" y="14.6" width="3.8" height="1" fill="#4aa828" opacity=".55"/><rect x="410" y="11" width="1" height="1" fill="#e8f0ff"/><path d="M439.5 4.5 V17.8 M437 15.5 H449.5" stroke="#555" stroke-width="1.1" fill="none"/><path d="M439.5 3.2 l-1.8 3 h3.6 z M451 15.5 l-3 -1.8 v3.6 z" fill="#4a4a4a"/><path d="M444.2 6.4 L448.2 9.7 L444.2 13 Z" fill="#4fd24f" stroke="#0a8a0a" stroke-width="1"/><path d="M467.5 4.5 V17.8 M465 15.5 H477.5" stroke="#555" stroke-width="1.1" fill="none"/><path d="M467.5 3.2 l-1.8 3 h3.6 z M479 15.5 l-3 -1.8 v3.6 z" fill="#4a4a4a"/><path d="M473.4 4 V14" stroke="#1b6aa8" stroke-width="1.4"/><path d="M474.4 9.6 L476.8 7.9 V11.3 Z M476.6 9.6 H479.2" fill="#d9480a" stroke="#d9480a" stroke-width=".8"/><g transform="translate(483.3,0)"><path d="M16.6 2.7 H23 L26.4 6.1 V14.4 Q26.4 15.4 25.4 15.4 H16.6 Q15.6 15.4 15.6 14.4 V3.7 Q15.6 2.7 16.6 2.7 Z" fill="#fdfdfd" stroke="#7a7a7a" stroke-width="1.2"/><path d="M23 2.9 V6.1 H26.2" fill="none" stroke="#7a7a7a" stroke-width="1.1"/><rect x="17.2" y="4.2" width="2.8" height="1.5" fill="#8c8c8c"/><path d="M17.2 8.5 H23 M17.2 10.5 H21.8 M17.2 12.5 H19" stroke="#8a8a8a" stroke-width="1"/><path d="M23 8.2 h4 v4 h4 v3.8 h-4 v4 h-4 v-4 h-4 v-3.8 h4 z" fill="#0b8f0b"/><path d="M24 9.2 h2 v4 h4 v1.8 h-4 v4 h-2 v-4 h-4 v-1.8 h4 z" fill="url(#gp)"/></g><path d="M519.6 8.8 h5.8 l-2.9 3.2 z" fill="#000"/><circle cx="544" cy="10" r="6.7" fill="#eff5fc" stroke="url(#gk)" stroke-width="2.8"/><circle cx="544" cy="10" r="8.1" fill="none" stroke="#0f48a0" stroke-width=".5" opacity=".7"/><path d="M544 10.2 L543.4 6.2 M544 10.2 L546.8 10.6" stroke="#2a2a2a" stroke-width="1.2" stroke-linecap="round"/><path d="M544 5.2 v.9 M544 14 v.9 M539.2 10 h.9 M547.9 10 h.9 M540.6 6.6 l.6 .6 M547.4 6.6 l-.6 .6 M540.6 13.4 l.6 -.6 M547.4 13.4 l-.6 -.6" stroke="#7f97b8" stroke-width=".8"/><path d="M558.7 8.8 h5.8 l-2.9 3.2 z" fill="#000"/><rect x="575.6" y="3.6" width="15" height="13.2" fill="#fff" stroke="#3b72c4" stroke-width="1.3"/><rect x="575.6" y="3.6" width="15" height="2" fill="#6c9ce0"/><path d="M576 10.8 H590.4" stroke="#3b72c4" stroke-width="1"/><path d="M577.4 9.2 h2 l1.2 -1.2 h1.8 l1.2 -1 l1.6 1 h1.6 l1 -.9" stroke="#a01c10" stroke-width="1.2" fill="none"/><path d="M578 14.6 l2 -.9 l1.4 .6 l1.8 -1.1 l1.6 .4 l1.6 -1.5 l1.9 2" stroke="#189018" stroke-width="1.2" fill="none"/><path d="M597.5 8.8 h5.8 l-2.9 3.2 z" fill="#000"/><path d="M627 3 V13.9 L629.6 11.7 L632.1 16.9 L634.2 15.9 L631.8 11 L635.3 10.8 Z" fill="#4a4a4a"/><path d="M652 10.4 H658.2 M660.8 10.4 H667 M659.5 3 V9 M659.5 11.8 V17.8" stroke="#4a4a4a" stroke-width="1.1"/><rect x="659" y="10" width="1" height="1" fill="#4a4a4a"/><path d="M693.5 4 V16.8 M716 10.4 H728" stroke="#4a4a4a" stroke-width="1.3" fill="none"/><path d="M743.7 17 L756 4.8" stroke="#555" stroke-width="1.1" fill="none"/><path d="M769.6 13.6 L782 3.3 M771 15.6 L783.2 6.6 M774.3 16.4 L784 9.2" stroke="#4a4a4a" stroke-width="1" fill="none"/><path d="M773.2 8.4 L774 15 M776.9 6 L777.7 13.4 M780.6 2.4 L781.4 10.4" stroke="#4a4a4a" stroke-width="1" fill="none"/><text x="780.8" y="18.8" font-size="6.4" font-weight="bold" fill="#4a4a4a" filter="url(#nof)">E</text><path d="M799 3.4 H812.4 M799 6.7 H812.4 M799 10.7 H812.4 M799 14.5 H808" stroke="#4a4a4a" stroke-width="1" stroke-dasharray="1 1" fill="none"/><text x="808.8" y="18.8" font-size="6.4" font-weight="bold" fill="#4a4a4a" filter="url(#nof)">F</text><text x="830.1" y="14.8" font-size="11.4" fill="#4a4a4a" stroke="#4a4a4a" stroke-width=".3" filter="url(#nof)">A</text><rect x="856.4" y="4.2" width="11.4" height="12.2" fill="none" stroke="#4a4a4a" stroke-width="1" stroke-dasharray="1 1"/><text x="858" y="14.8" font-size="10.6" fill="#4a4a4a" stroke="#4a4a4a" stroke-width=".3" textLength="7.9" lengthAdjust="spacingAndGlyphs" filter="url(#nof)">T</text><path d="M886.5 3.8 L890.3 8 H882.7 Z M889.7 13.2 H897.1 L893.4 17.2 Z" fill="#4a4a4a"/><path d="M885.4 10.8 L888 13.4 L891.8 8.8" stroke="#4a4a4a" stroke-width="1.6" fill="none"/><path d="M903.8 8.8 h5.8 l-2.9 3.2 z" fill="#000"/><g filter="url(#nof)" text-rendering="geometricPrecision"><text x="930.7" y="13.8" font-size="10" fill="#404040" textLength="12.6" lengthAdjust="spacingAndGlyphs">M1</text><text x="958.8" y="13.8" font-size="10" fill="#404040" textLength="12.5" lengthAdjust="spacingAndGlyphs">M5</text><text x="984.6" y="13.8" font-size="10" fill="#404040" textLength="17.4" lengthAdjust="spacingAndGlyphs">M15</text><text x="1012.7" y="13.8" font-size="10" fill="#404040" textLength="17.4" lengthAdjust="spacingAndGlyphs">M30</text><text x="1043.5" y="13.8" font-size="10" fill="#404040" textLength="11.5" lengthAdjust="spacingAndGlyphs">H1</text><text x="1070.8" y="13.8" font-size="10" fill="#404040" textLength="11.9" lengthAdjust="spacingAndGlyphs">H4</text><text x="1099.6" y="13.8" font-size="10" fill="#404040" textLength="11.5" lengthAdjust="spacingAndGlyphs">D1</text><text x="1127" y="13.8" font-size="10" fill="#404040" textLength="14" lengthAdjust="spacingAndGlyphs">W1</text><text x="1153.7" y="13.8" font-size="10" fill="#404040" textLength="14.7" lengthAdjust="spacingAndGlyphs">MN</text></g><path d="M1643.7 10.2 L1639.4 14.4" stroke="#2a5bd0" stroke-width="2.5" stroke-linecap="round"/><circle cx="1646.4" cy="7.4" r="3.8" fill="#f4f7fd" stroke="#2353c8" stroke-width="1.3"/><path d="M1665.6 16 L1666.2 19 L1669 16.6 Z" fill="#dfe2e8" stroke="#b4b8c0" stroke-width=".8"/><ellipse cx="1669" cy="12.2" rx="5.8" ry="4.5" fill="#e6e8ee" stroke="#b4b8c0" stroke-width=".9"/><circle cx="1677.4" cy="7.4" r="8.2" fill="url(#gr)"/><text x="1677.3" y="11.9" font-size="12.5" fill="#fff" text-anchor="middle" filter="url(#nof)">1</text></svg>
</body></html>
